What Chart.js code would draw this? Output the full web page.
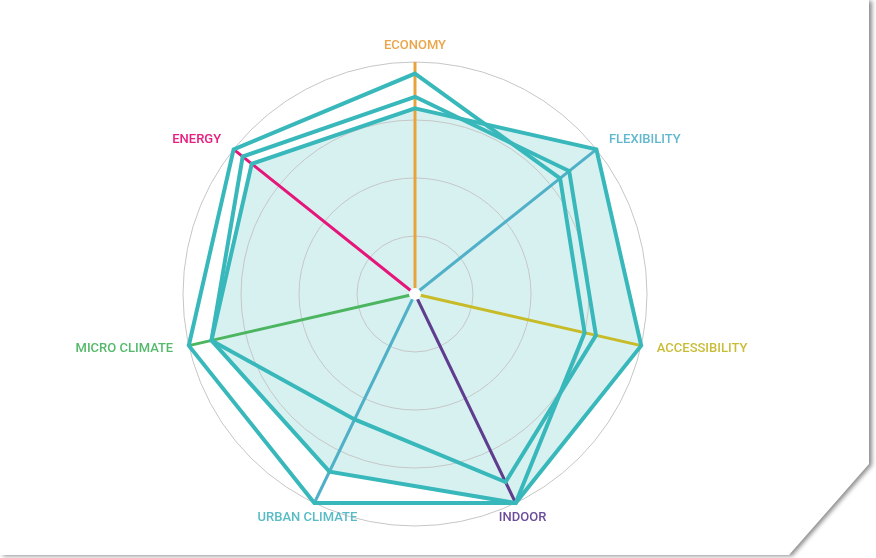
<!DOCTYPE html>
<html>
<head>
<meta charset="utf-8">
<script src="https://cdn.jsdelivr.net/npm/chart.js@4/dist/chart.umd.min.js"></script>
<style>
  html, body { margin: 0; padding: 0; background: #ffffff; width: 876px; height: 558px; overflow: hidden; }
  #shadowWrap { position: absolute; left: 0; top: 0; width: 876px; height: 558px; filter: drop-shadow(3px 1px 2px rgba(0,0,0,0.45)); }
  #page { position: absolute; left: 0; top: 0; width: 869px; height: 555px; background: #ffffff;
          clip-path: polygon(0 0, 869px 0, 869px 464px, 789px 555px, 0 555px); }
  #chartBox { position: absolute; left: 0; top: 0; width: 876px; height: 558px; }
</style>
</head>
<body>
<div id="shadowWrap"><div id="page"></div></div>
<div id="chartBox"><canvas id="c" width="876" height="558"></canvas></div>
<script>
// ---- data ----
const categories = ['ECONOMY', 'FLEXIBILITY', 'ACCESSIBILITY', 'INDOOR', 'URBAN CLIMATE', 'MICRO CLIMATE', 'ENERGY'];
const seriesA = [95, 80, 75, 100, 100, 100, 100];
const seriesC = [85, 85, 80, 90, 60, 90, 95];
const seriesB = [80, 100, 100, 100, 85, 90, 90];
const tickValues = [0, 25, 50, 75, 100];

// ---- styles ----
const spokeColors = ['#e9a33d', '#4fb0c7', '#c8bb28', '#5e3c8e', '#4fb0c7', '#4cb560', '#e6157a'];
const labelColors = ['#eba64b', '#62b8cf', '#c9bd38', '#6c4d9c', '#58bcc6', '#55b96b', '#e71f80'];
const teal = '#38b8bb';

const axisLabelPlugin = {
  id: 'axisLabels',
  afterDraw(chart) {
    const s = chart.scales.r;
    const ctx = chart.ctx;
    ctx.save();
    ctx.font = '500 13px Roboto, "Noto Sans", sans-serif';
    ctx.textBaseline = 'middle';
    categories.forEach((lab, i) => {
      const a = s.getIndexAngle(i);
      const p = s.getPointPosition(i, s.drawingArea + 16);
      const sn = Math.sin(a);
      ctx.textAlign = Math.abs(sn) < 0.5 ? 'center' : (sn > 0 ? 'left' : 'right');
      ctx.fillStyle = labelColors[i];
      ctx.fillText(lab, p.x, p.y);
    });
    ctx.beginPath();
    ctx.arc(s.xCenter, s.yCenter, 6, 0, Math.PI * 2);
    ctx.fillStyle = '#ffffff';
    ctx.fill();
    ctx.restore();
  }
};

new Chart(document.getElementById('c'), {
  type: 'radar',
  data: {
    labels: categories,
    datasets: [
      { data: seriesA, borderColor: teal, borderWidth: 4, fill: false, pointRadius: 0, pointHoverRadius: 0, clip: false },
      { data: seriesC, borderColor: teal, borderWidth: 4, fill: false, pointRadius: 0, pointHoverRadius: 0, clip: false },
      { data: seriesB, borderColor: teal, borderWidth: 4, fill: true, backgroundColor: 'rgba(56,184,187,0.2)', pointRadius: 0, pointHoverRadius: 0, clip: false }
    ]
  },
  options: {
    responsive: false,
    animation: false,
    layout: { padding: { top: 62, bottom: 32, left: 183, right: 229 } },
    plugins: { legend: { display: false }, tooltip: { enabled: false }, filler: { drawTime: 'beforeDraw' } },
    elements: { line: { tension: 0, borderJoinStyle: 'miter' } },
    scales: {
      r: {
        min: tickValues[0],
        max: tickValues[tickValues.length - 1],
        startAngle: 0,
        ticks: { display: false, stepSize: tickValues[1] - tickValues[0] },
        grid: { circular: true, color: '#c6c6c6', lineWidth: 1 },
        angleLines: { display: true, color: (ctx) => spokeColors[ctx.index], lineWidth: 3 },
        pointLabels: { display: false }
      }
    }
  },
  plugins: [axisLabelPlugin]
});
</script>
</body>
</html>
